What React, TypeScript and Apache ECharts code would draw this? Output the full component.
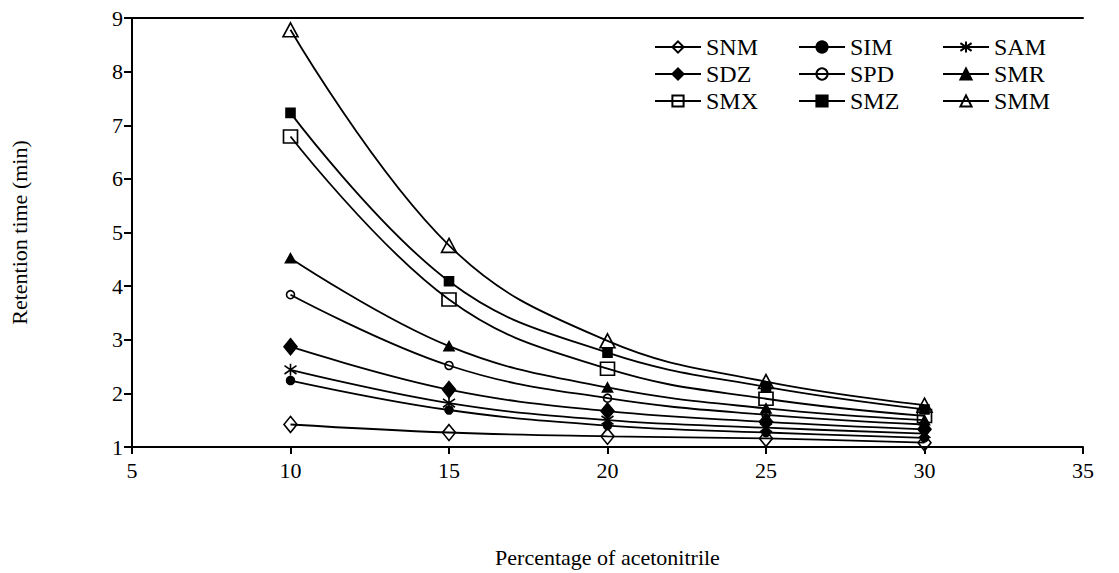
import React, { useEffect, useRef } from "react";
import * as echarts from "echarts";

const xValues = [10, 15, 20, 25, 30];
const seriesNames = ["SNM", "SIM", "SAM", "SDZ", "SPD", "SMR", "SMX", "SMZ", "SMM"];
const SNM = [1.42, 1.27, 1.2, 1.16, 1.08];
const SIM = [2.24, 1.69, 1.4, 1.27, 1.17];
const SAM = [2.44, 1.82, 1.5, 1.36, 1.25];
const SDZ = [2.87, 2.07, 1.67, 1.47, 1.33];
const SPD = [3.84, 2.52, 1.91, 1.6, 1.42];
const SMR = [4.52, 2.88, 2.11, 1.72, 1.5];
const SMX = [6.79, 3.75, 2.46, 1.9, 1.58];
const SMZ = [7.23, 4.09, 2.76, 2.12, 1.7];
const SMM = [8.78, 4.76, 2.98, 2.22, 1.78];
const xTicks = [5, 10, 15, 20, 25, 30, 35];
const yTicks = [1, 2, 3, 4, 5, 6, 7, 8, 9];

const FONT = "'Liberation Serif', 'Times New Roman', serif";
const ASTERISK = "path://M10 0 L10 20 M3 3 L17 17 M3 17 L17 3";

export default function App() {
  const ref = useRef<HTMLDivElement>(null);
  useEffect(() => {
    if (!ref.current) return;
    const chart = echarts.init(ref.current, undefined, { renderer: "svg" });
    const dataSets: Record<string, number[]> = { SNM, SIM, SAM, SDZ, SPD, SMR, SMX, SMZ, SMM };
    const symbols: Record<string, any> = {
      SNM: { symbol: "diamond", size: [13, 16], fill: "rgba(0,0,0,0)" },
      SIM: { symbol: "circle", size: 8, fill: "#000" },
      SAM: { symbol: ASTERISK, size: 12, fill: "#000" },
      SDZ: { symbol: "diamond", size: [13, 16], fill: "#000" },
      SPD: { symbol: "circle", size: 8, fill: "rgba(0,0,0,0)" },
      SMR: { symbol: "triangle", size: [10, 9], fill: "#000" },
      SMX: { symbol: "rect", size: [14, 13], fill: "rgba(0,0,0,0)" },
      SMZ: { symbol: "rect", size: [9, 9], fill: "#000" },
      SMM: { symbol: "triangle", size: [15, 14], fill: "rgba(0,0,0,0)" },
    };
    const series = seriesNames.map((name) => ({
      name,
      type: "line",
      data: xValues.map((x, i) => [x, dataSets[name][i]]),
      smooth: 0.4,
      symbol: symbols[name].symbol,
      symbolSize: symbols[name].size,
      lineStyle: { color: "#000", width: 1.8 },
      itemStyle: { color: symbols[name].fill, borderColor: "#000", borderWidth: 1.6 },
      emphasis: { disabled: true },
    }));
    const legendCommon = {
      orient: "vertical",
      top: 30,
      itemWidth: 46,
      itemHeight: 14,
      itemGap: 3,
      textStyle: { fontFamily: FONT, fontSize: 24, color: "#000", lineHeight: 24 },
      selectedMode: false,
    };
    chart.setOption({
      animation: false,
      backgroundColor: "#fff",
      textStyle: { fontFamily: FONT },
      grid: { left: 130, right: 36, top: 18, bottom: 118, containLabel: false },
      legend: [
        { ...legendCommon, left: 649, data: ["SNM", "SDZ", "SMX"] },
        { ...legendCommon, left: 793, data: ["SIM", "SPD", "SMZ"] },
        { ...legendCommon, left: 937, data: ["SAM", "SMR", "SMM"] },
      ],
      xAxis: [
        {
          type: "value",
          min: xTicks[0],
          max: xTicks[xTicks.length - 1],
          interval: 5,
          name: "Percentage of acetonitrile",
          nameLocation: "middle",
          nameGap: 99,
          nameTextStyle: { fontFamily: FONT, fontSize: 22, color: "#000" },
          axisLine: { show: true, lineStyle: { color: "#000", width: 2 } },
          axisTick: { show: true, inside: false, length: 7, lineStyle: { color: "#000", width: 2 } },
          axisLabel: { fontFamily: FONT, fontSize: 22, color: "#000", margin: 12 },
          splitLine: { show: false },
        },
        {
          type: "value",
          position: "top",
          min: xTicks[0],
          max: xTicks[xTicks.length - 1],
          axisLine: { show: true, lineStyle: { color: "#000", width: 2 } },
          axisTick: { show: false },
          axisLabel: { show: false },
          splitLine: { show: false },
        },
      ],
      yAxis: {
        type: "value",
        min: yTicks[0],
        max: yTicks[yTicks.length - 1],
        interval: 1,
        name: "Retention time (min)",
        nameLocation: "middle",
        nameGap: 102,
        nameRotate: 90,
        nameTextStyle: { fontFamily: FONT, fontSize: 22, color: "#000" },
        axisLine: { show: true, lineStyle: { color: "#000", width: 2 } },
        axisTick: { show: true, inside: false, length: 8, lineStyle: { color: "#000", width: 2 } },
        axisLabel: { fontFamily: FONT, fontSize: 22, color: "#000", margin: 9 },
        splitLine: { show: false },
      },
      series,
    });
    return () => chart.dispose();
  }, []);
  return (
    <div
      ref={ref}
      style={{ position: "absolute", left: 0, top: 0, width: 1119, height: 573, background: "#fff" }}
    />
  );
}
